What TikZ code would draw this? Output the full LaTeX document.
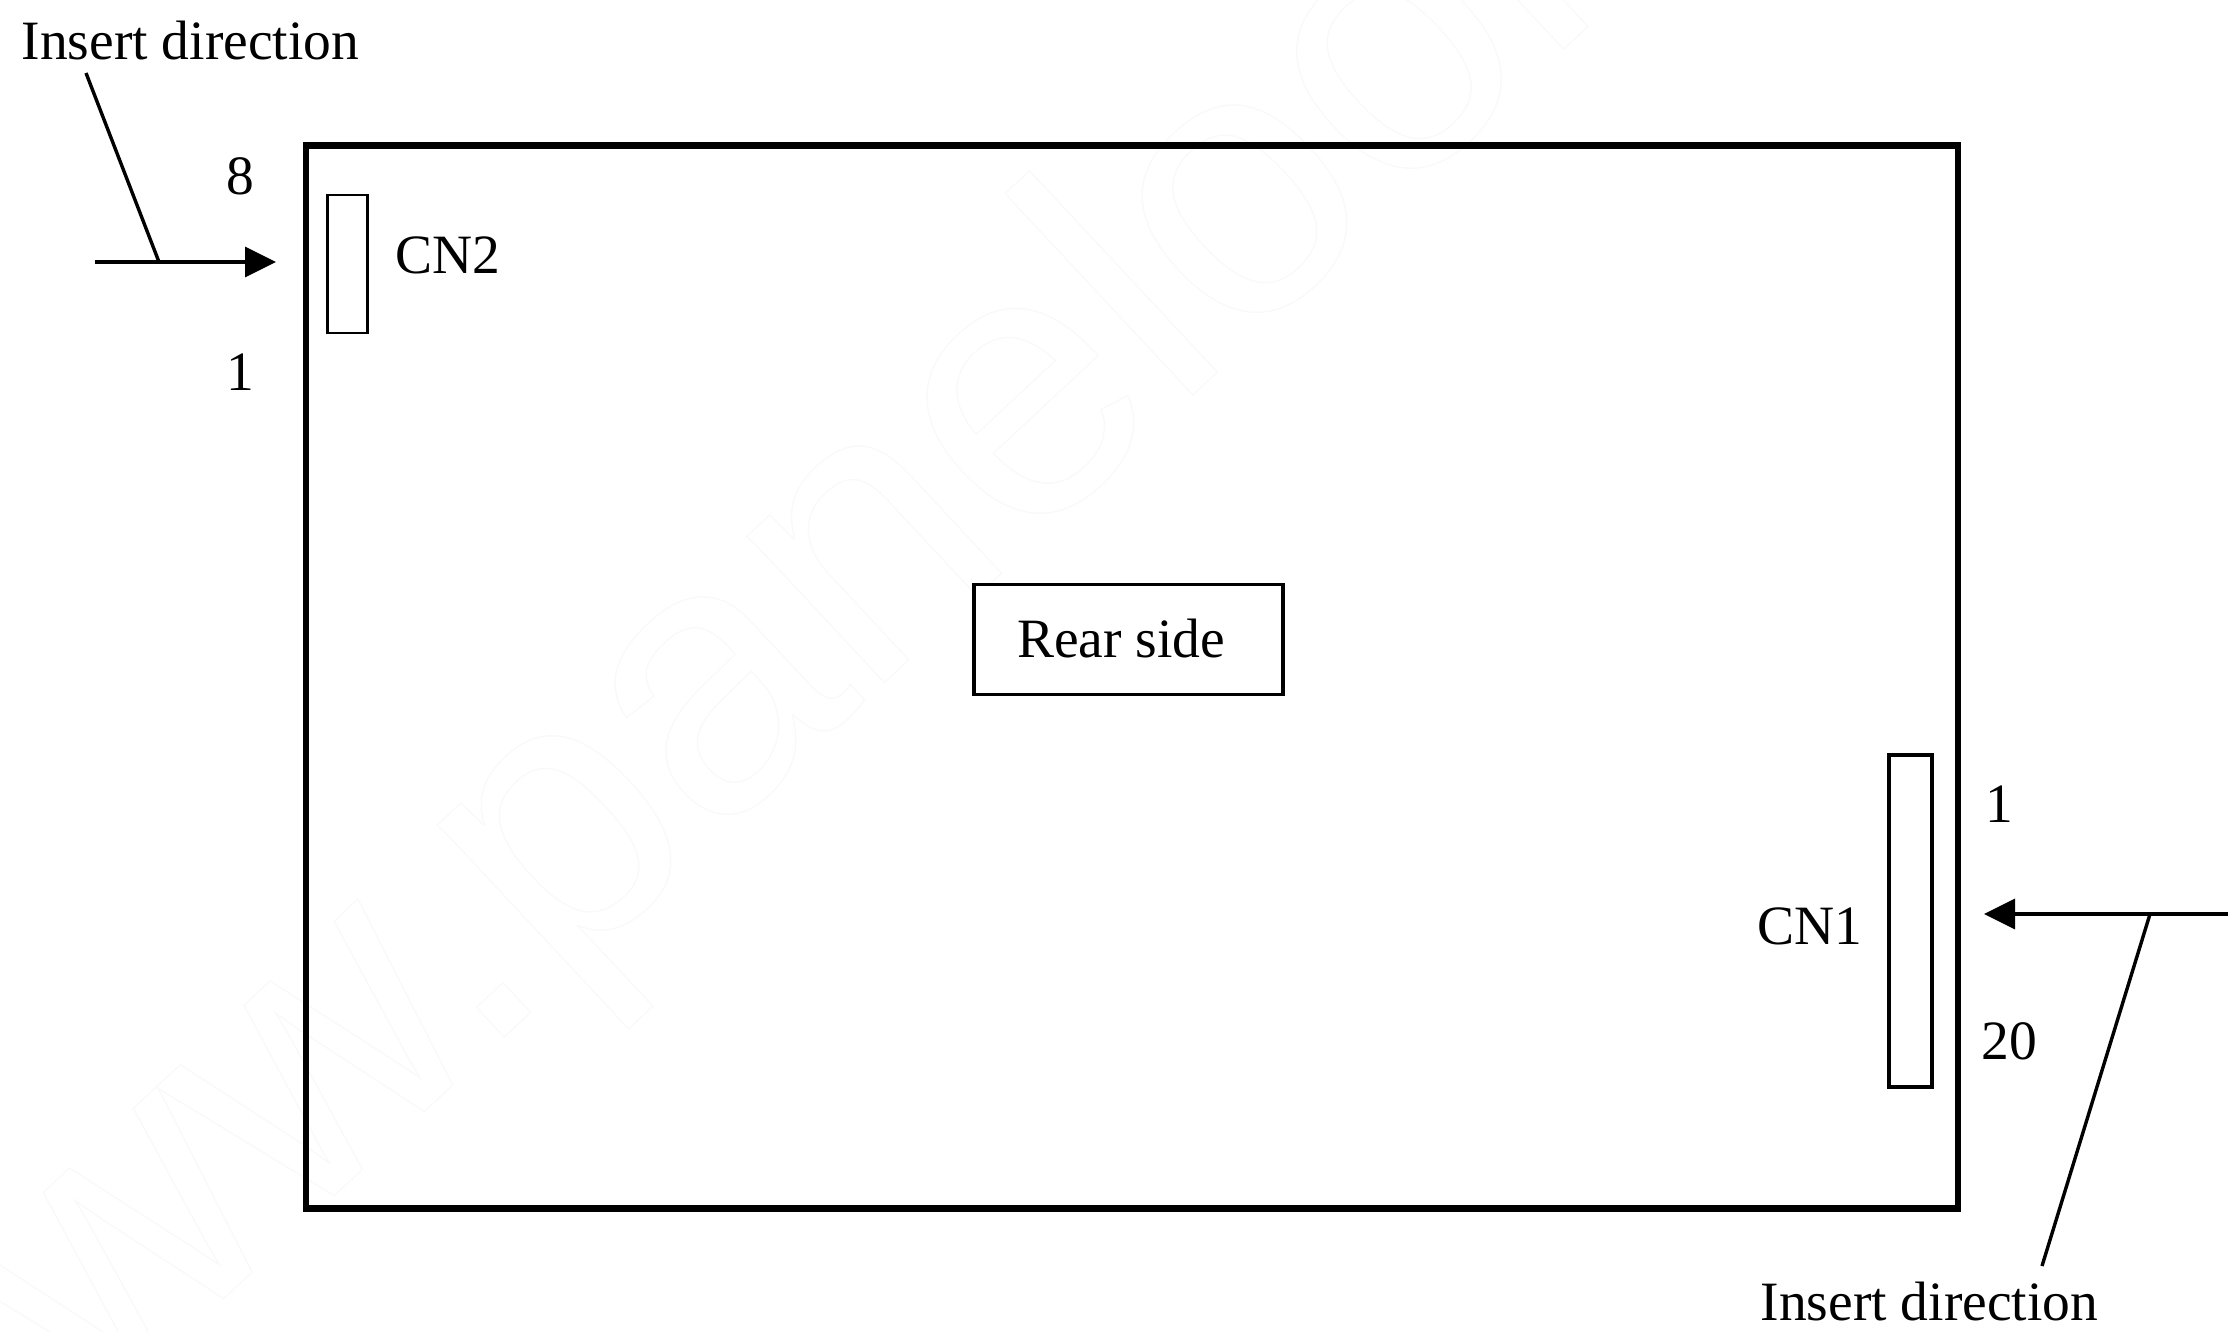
\documentclass[tikz,border=0pt]{standalone}
\usepackage{fontspec}
\setmainfont{Liberation Serif}
\newfontfamily\markfont{Liberation Sans}
\usetikzlibrary{arrows.meta}
\tikzset{
  x=1pt,y=-1pt,
  lbl/.style={inner sep=0pt,anchor=base west,font=\fontsize{55.5}{60}\selectfont,text=black},
  lblc/.style={inner sep=0pt,anchor=base,font=\fontsize{55.5}{60}\selectfont,text=black},
  board/.style={draw,line width=6.5pt,inner sep=0pt,minimum width=1652pt,minimum height=1063pt},
  conn/.style={draw,inner sep=0pt,fill=white},
  tag/.style={draw,line width=3.2pt,inner sep=0pt,fill=white,minimum width=309pt,minimum height=110pt},
  lead/.style={line width=3.4pt,black},
  ins/.style={line width=3.4pt,black,-{Triangle[length=31pt,width=30pt]}},
  wmark/.style={inner sep=0pt,anchor=base west,rotate=43,font=\markfont\fontsize{380}{400}\selectfont}
}
\begin{document}
\begin{tikzpicture}
\useasboundingbox (0,0) rectangle (2228,1332);
\node[wmark] (wm) at (-108,1608) {\special{pdf:code q 1 Tr 1.4 w 0.975 G}www.panelook.com\special{pdf:code Q}};
\node[board] (panel) at (1132,677) {};
\node[conn,line width=2.6pt,minimum width=40pt,minimum height=138pt] (cn2box) at (347.5,264) {};
\node[conn,line width=3.2pt,minimum width=43pt,minimum height=332pt] (cn1box) at (1910.5,921) {};
\node[tag] (rear) at (1128.5,639.5) {};
\node[lbl] (rearlabel) at (1017,657) {Rear side};
\node[lbl] (ins2) at (21.5,60) {Insert direction};
\node[lbl] (ins1) at (1760.5,1320) {Insert direction};
\node[lbl] (cn2) at (395,273.5) {CN2};
\node[lbl] (cn1) at (1757,944.5) {CN1};
\node[lblc] (p8) at (240,195) {8};
\node[lblc] (p1a) at (240,390) {1};
\node[lblc] (p1b) at (1999,822.5) {1};
\node[lblc] (p20) at (2009,1059.5) {20};
\coordinate (a2s) at (94.5,262);
\coordinate (a2e) at (276,262);
\coordinate (l2s) at (86,73);
\coordinate (l2e) at (159,262);
\coordinate (a1s) at (2228,914);
\coordinate (a1e) at (1984,914);
\coordinate (l1s) at (2150,914);
\coordinate (l1e) at (2042,1266);
\draw[ins] (a2s) -- (a2e);
\draw[lead] (l2s) -- (l2e);
\draw[ins] (a1s) -- (a1e);
\draw[lead] (l1s) -- (l1e);
\end{tikzpicture}
\end{document}
